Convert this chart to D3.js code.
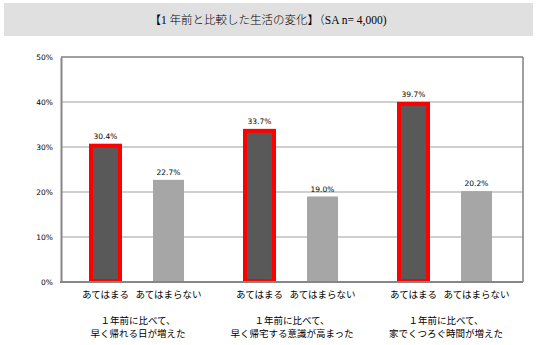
<!DOCTYPE html>
<html><head><meta charset="utf-8">
<script src="https://cdn.jsdelivr.net/npm/d3@7"></script>
<style>
html,body{margin:0;padding:0;background:#fff;}
svg{display:block;}
</style></head>
<body>
<svg id="chart" width="537" height="345"></svg>
<script>
const titleText = "【1 年前と比較した生活の変化】（SA n= 4,000)";
const groups = ["g1","g2","g3"];
const groupLabels = [
  ["１年前に比べて、","早く帰れる日が増えた"],
  ["１年前に比べて、","早く帰宅する意識が高まった"],
  ["１年前に比べて、","家でくつろぐ時間が増えた"]
];
const seriesNames = ["あてはまる","あてはまらない"];
const valuesApplies = [30.4, 33.7, 39.7];
const valuesNotApplies = [22.7, 19.0, 20.2];
const yTicks = [0,10,20,30,40,50];

const svg = d3.select("#chart");
const L = 61, R = 523, T = 57, B = 282;

// title band
svg.append("rect").attr("x",4).attr("y",3).attr("width",529).attr("height",33).attr("fill","#e0e0e0");
svg.append("text").attr("x",268).attr("y",24).attr("text-anchor","middle")
  .attr("font-family","'Liberation Serif','Noto Sans CJK JP',serif").attr("font-size",11.5)
  .attr("font-weight",300).attr("fill","#000")
  .text(titleText);

const y = d3.scaleLinear().domain([0,50]).range([B,T]);
const x0 = d3.scaleBand().domain(groups).range([L,R]).padding(0);
const x1 = d3.scaleBand().domain([0,1]).range([0,x0.bandwidth()]).paddingInner(0.508).paddingOuter(0.476);

// gridlines
svg.append("g").selectAll("line").data(yTicks.filter(t=>t>0 && t<50)).join("line")
  .attr("x1",L).attr("x2",R).attr("y1",d=>y(d)).attr("y2",d=>y(d))
  .attr("stroke","#bfbfbf").attr("stroke-width",1.5);

// frame
svg.append("line").attr("x1",L).attr("x2",R).attr("y1",T).attr("y2",T).attr("stroke","#7f7f7f").attr("stroke-width",1.5);
svg.append("line").attr("x1",R).attr("x2",R).attr("y1",T).attr("y2",B).attr("stroke","#7f7f7f").attr("stroke-width",1.5);

// y axis
const yAxis = d3.axisLeft(y).tickValues(yTicks).tickFormat(d=>d+"%").tickSize(0).tickPadding(8);
const ga = svg.append("g").attr("transform",`translate(${L},0)`).call(yAxis);
ga.select(".domain").attr("stroke","#868686").attr("stroke-width",2);
ga.selectAll("text").attr("font-family","Verdana,'DejaVu Sans',sans-serif").attr("font-size",7.5).attr("fill","#000");

const data = groups.map((g,i)=>({g, vals:[valuesApplies[i], valuesNotApplies[i]]}));
const gg = svg.append("g").selectAll("g").data(data).join("g")
  .attr("transform",d=>`translate(${x0(d.g)},0)`);

// bars
gg.selectAll("rect").data(d=>d.vals.map((v,k)=>({v,k}))).join("rect")
  .attr("x",d=>d.k===0 ? x1(0) : x1(1)-1)
  .attr("width",d=>d.k===0 ? x1.bandwidth()-2 : x1.bandwidth())
  .attr("y",d=>d.k===0 ? y(d.v)+0.5 : y(d.v))
  .attr("height",d=>d.k===0 ? B-1-y(d.v)-0.5 : B-y(d.v))
  .attr("fill",d=>d.k===0?"#595959":"#a6a6a6")
  .attr("stroke",d=>d.k===0?"#ff0000":"none")
  .attr("stroke-width",4);

// axis baseline drawn after bars
svg.append("line").attr("x1",L-1).attr("x2",R).attr("y1",B).attr("y2",B).attr("stroke","#868686").attr("stroke-width",2);

// value labels
gg.selectAll("text.val").data(d=>d.vals.map((v,k)=>({v,k}))).join("text").attr("class","val")
  .attr("x",d=>d.k===0 ? x1(0)+x1.bandwidth()/2-1 : x1(1)+x1.bandwidth()/2-1)
  .attr("y",d=>y(d.v)-(d.k===0?6:5))
  .attr("text-anchor","middle")
  .attr("font-family","Verdana,'DejaVu Sans',sans-serif").attr("font-size",7.5).attr("fill","#000")
  .text(d=>d.v.toFixed(1)+"%");

// category labels
gg.selectAll("text.cat").data([0,1]).join("text").attr("class","cat")
  .attr("x",k=>x1(k)+x1.bandwidth()/2-1).attr("y",298).attr("text-anchor","middle")
  .attr("font-family","'Noto Sans CJK JP',sans-serif").attr("font-size",9.5).attr("fill","#000")
  .text(k=>seriesNames[k]);

// group labels
gg.each(function(d,i){
  const g = d3.select(this);
  groupLabels[i].forEach((line,j)=>{
    g.append("text").attr("x",x0.bandwidth()/2).attr("y",324+j*12.5).attr("text-anchor","middle")
      .attr("font-family","'Noto Sans CJK JP',sans-serif").attr("font-size",9.5).attr("fill","#000")
      .text(line);
  });
});
</script>
</body></html>
